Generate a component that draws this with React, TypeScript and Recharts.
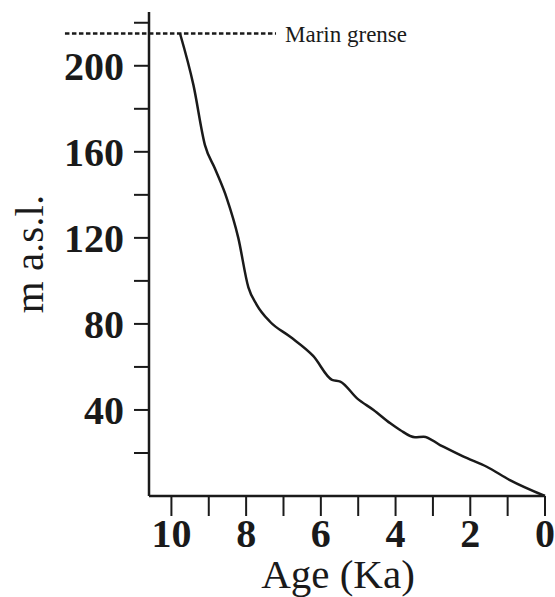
import { LineChart, Line, XAxis, YAxis, ReferenceLine, Label } from 'recharts';

// Age (ka BP) and elevation (m a.s.l.)
const ages = [9.77, 9.41, 9.1, 8.83, 8.52, 8.21, 7.94, 7.72, 7.36, 6.82, 6.2, 5.7, 5.48, 5.03, 4.59, 4.14, 3.88, 3.48, 3.25, 2.81, 2.18, 1.56, 0.94, 0];
const elevations = [215, 191, 163, 152, 138.5, 120, 97, 89, 81, 74, 65, 54, 53.2, 45.4, 40, 33.8, 30.7, 27.3, 27.6, 23.7, 18.3, 13.6, 7.4, 0];

const xTicks = [0, 1, 2, 3, 4, 5, 6, 7, 8, 9, 10];
const yTicks = [20, 40, 60, 80, 100, 120, 140, 160, 180, 200, 220];

const marineLimit = 215;
const marineLimitLabel = 'Marin grense';

const data = ages.map((age, i) => ({ age, elevation: elevations[i] }));

const serif = '"Liberation Serif", "Times New Roman", serif';
const ink = '#1a1a1a';

const tickStyle = { fontFamily: serif, fontSize: 40, fontWeight: 700, fill: ink };

const App = () => {
  return (
    <div style={{ position: 'absolute', left: 0, top: 0, background: '#fff' }}>
      <LineChart
        width={555}
        height={597}
        data={data}
        margin={{ top: 12, right: 10, bottom: 0, left: 0 }}
      >
        <XAxis
          dataKey="age"
          type="number"
          domain={[0, 10.6]}
          reversed
          ticks={xTicks}
          interval={0}
          tickFormatter={(v: number) => (v % 2 === 0 ? String(v) : '')}
          height={101}
          tickSize={20}
          tickMargin={3}
          axisLine={{ stroke: ink, strokeWidth: 2.5 }}
          tickLine={{ stroke: ink, strokeWidth: 2 }}
          tick={tickStyle}
        >
          <Label
            value="Age (Ka)"
            position="insideBottom"
            offset={9}
            dx={-9}
            style={{ fontFamily: serif, fontSize: 41, fill: ink }}
          />
        </XAxis>
        <YAxis
          type="number"
          domain={[0, 225]}
          ticks={yTicks}
          interval={0}
          tickFormatter={(v: number) => (v % 40 === 0 ? String(v) : '')}
          width={149}
          tickSize={15}
          tickMargin={10}
          axisLine={{ stroke: ink, strokeWidth: 2.5 }}
          tickLine={{ stroke: ink, strokeWidth: 2 }}
          tick={tickStyle}
        >
          <Label
            value="m a.s.l."
            angle={-90}
            position="insideLeft"
            offset={28}
            style={{ fontFamily: serif, fontSize: 41, fill: ink, textAnchor: 'middle' }}
          />
        </YAxis>
        <ReferenceLine
          segment={[
            { x: 12.85, y: marineLimit },
            { x: 7.2, y: marineLimit },
          ]}
          ifOverflow="visible"
          stroke={ink}
          strokeWidth={2.5}
          strokeDasharray="4.5 2.5"
        >
          <Label
            value={marineLimitLabel}
            position="right"
            offset={9}
            style={{ fontFamily: serif, fontSize: 23, fill: ink }}
          />
        </ReferenceLine>
        <Line
          type="monotone"
          dataKey="elevation"
          stroke={ink}
          strokeWidth={2.5}
          dot={false}
          isAnimationActive={false}
        />
      </LineChart>
    </div>
  );
};

export default App;
